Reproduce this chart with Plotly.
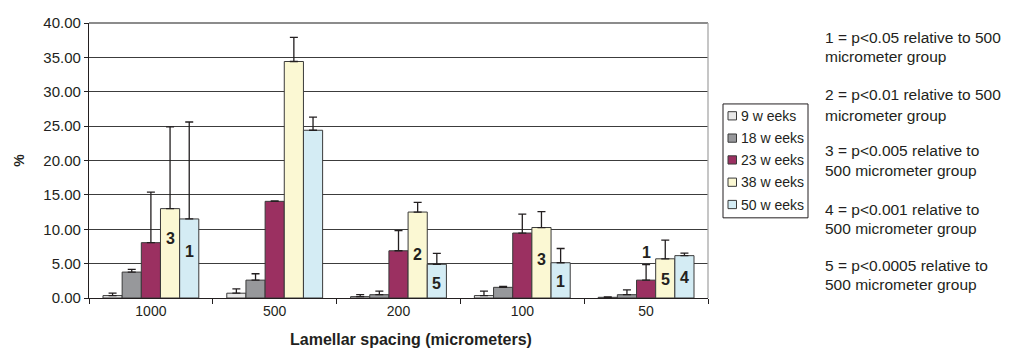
import plotly.graph_objects as go

categories = ["1000", "500", "200", "100", "50"]
series_names = ["9 w eeks", "18 w eeks", "23 w eeks", "38 w eeks", "50 w eeks"]
colors = ["#e8e8e8", "#97989b", "#9b3061", "#fbf8d3", "#d4ecf4"]

wk9 = [0.35, 0.70, 0.20, 0.35, 0.10]
wk18 = [3.77, 2.60, 0.48, 1.55, 0.48]
wk23 = [8.05, 14.06, 6.87, 9.45, 2.60]
wk38 = [13.0, 34.4, 12.5, 10.25, 5.70]
wk50 = [11.5, 24.4, 4.90, 5.13, 6.16]

err9 = [0.35, 0.63, 0.30, 0.65, 0.05]
err18 = [0.40, 0.93, 0.52, 0.15, 0.70]
err23 = [7.35, 0.05, 2.93, 2.75, 2.25]
err38 = [11.9, 3.5, 1.4, 2.3, 2.72]
err50 = [14.1, 1.9, 1.6, 2.07, 0.38]

values = [wk9, wk18, wk23, wk38, wk50]
errors = [err9, err18, err23, err38, err50]

# significance markers: (category, series index, y position, label)
sig_cats = ["1000", "1000", "200", "200", "100", "100", "50", "50", "50"]
sig_series = [3, 4, 3, 4, 3, 4, 2, 3, 4]
sig_y = [8.6, 6.7, 6.3, 2.1, 5.6, 2.4, 6.6, 2.65, 3.05]
sig_text = ["3", "1", "2", "5", "3", "1", "1", "5", "4"]

note_lines = [
    ("1 = p<0.05 relative to 500", 29), ("micrometer group", 49),
    ("2 = p<0.01 relative to 500", 88), ("micrometer group", 109),
    ("3 = p<0.005 relative to", 146), ("500 micrometer group", 166),
    ("4 = p<0.001 relative to", 206), ("500 micrometer group", 226),
    ("5 = p<0.0005 relative to", 264), ("500 micrometer group", 284),
]

# page body has an 8px default margin: work in window pixels, convert below
OFF = 8
W, H = 1007, 340
plot_left, plot_right, plot_top, plot_bottom = 89, 708, 14, 297.7
L = plot_left - OFF
R = W - (plot_right - OFF)
T = plot_top - OFF
B = H - (plot_bottom - OFF)
pw, ph = plot_right - plot_left, plot_bottom - plot_top
bargap = 0.226
cat_w = pw / len(categories)
bar_w = cat_w * (1 - bargap) / len(series_names)

def px_x(px):
    return (px - plot_left) / pw

def px_y(py):
    return (plot_bottom - py) / ph

font = "Arial, Liberation Sans, Helvetica, sans-serif"
dark = "#231f20"

fig = go.Figure()
for name, col, v, e in zip(series_names, colors, values, errors):
    fig.add_trace(go.Bar(
        x=categories, y=v, name=name,
        marker=dict(color=col, line=dict(color="#3a3a3a", width=1)),
        error_y=dict(type="data", array=e, arrayminus=[0] * len(e), symmetric=False,
                     color=dark, thickness=1.3, width=4),
        showlegend=False,
    ))

annotations = []
for c, s, y, t in zip(sig_cats, sig_series, sig_y, sig_text):
    annotations.append(dict(
        x=categories.index(c), y=y, xref="x", yref="y", text="<b>%s</b>" % t,
        showarrow=False, xshift=(s - 2) * bar_w, xanchor="center", yanchor="middle",
        font=dict(family=font, size=16, color=dark)))

for txt, py in note_lines:
    annotations.append(dict(
        x=px_x(823), y=px_y(py), xref="paper", yref="paper", text=txt,
        showarrow=False, xanchor="left", yanchor="middle",
        font=dict(family=font, size=15.5, color=dark)))

# axis titles
annotations.append(dict(
    x=px_x(411), y=px_y(340), xref="paper", yref="paper",
    text="<b>Lamellar spacing (micrometers)</b>", showarrow=False,
    xanchor="center", yanchor="middle",
    font=dict(family=font, size=16, color=dark)))
annotations.append(dict(
    x=px_x(19), y=px_y(156), xref="paper", yref="paper", text="<b>%</b>",
    textangle=-90, showarrow=False, xanchor="center", yanchor="middle",
    font=dict(family=font, size=14, color=dark)))

shapes = []
# plot area top and right border
shapes.append(dict(type="line", xref="paper", yref="paper", x0=0, x1=1, y0=1, y1=1,
                   line=dict(color="#8c8c8c", width=2)))
shapes.append(dict(type="line", xref="paper", yref="paper", x0=1, x1=1, y0=0, y1=1,
                   line=dict(color="#a8a8a8", width=1.3)))

# manual legend
lx0, lx1, ly0, ly1 = 723, 808, 97.5, 215
shapes.append(dict(type="rect", xref="paper", yref="paper",
                   x0=px_x(lx0), x1=px_x(lx1), y0=px_y(ly1), y1=px_y(ly0),
                   line=dict(color=dark, width=1), fillcolor="white"))
item_y = [110, 133, 155.5, 178.5, 201.5]
for name, col, iy in zip(series_names, colors, item_y):
    shapes.append(dict(type="rect", xref="paper", yref="paper",
                       x0=px_x(728), x1=px_x(736.5), y0=px_y(iy + 4), y1=px_y(iy - 4.5),
                       line=dict(color="#3a3a3a", width=1), fillcolor=col))
    annotations.append(dict(
        x=px_x(739), y=px_y(iy), xref="paper", yref="paper", text=name,
        showarrow=False, xanchor="left", yanchor="middle",
        font=dict(family=font, size=14, color=dark)))

fig.update_layout(
    width=W, height=H,
    margin=dict(l=L, r=R, t=T, b=B, pad=0),
    paper_bgcolor="white", plot_bgcolor="white",
    barmode="group", bargap=bargap, bargroupgap=0,
    font=dict(family=font, color=dark),
    annotations=annotations, shapes=shapes,
    xaxis=dict(type="category", range=[-0.5, len(categories) - 0.5],
               showline=True, linecolor=dark, linewidth=1.3,
               ticks="outside", tickson="boundaries", ticklen=5, tickcolor=dark,
               tickfont=dict(size=14, color=dark), showgrid=False),
    yaxis=dict(range=[0, 40], dtick=5, tickformat=".2f", showline=True,
               linecolor=dark, linewidth=1.3, ticks="outside", ticklen=4,
               tickcolor=dark, tickfont=dict(size=15, color=dark),
               ticklabeloverflow="allow",
               showgrid=True, gridcolor="#3c3c3c", gridwidth=1.2, zeroline=False),
)

fig.write_html("out.html")
